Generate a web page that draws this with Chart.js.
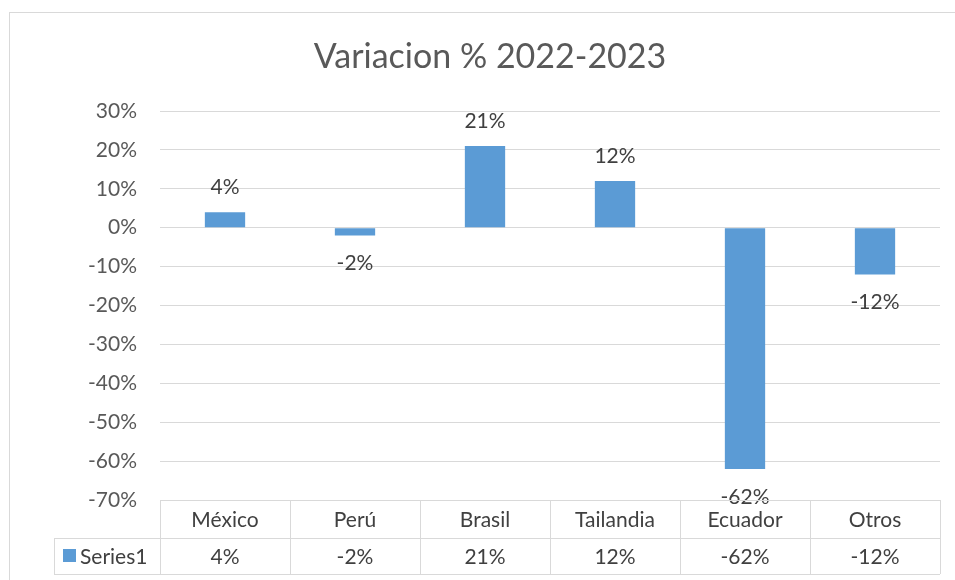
<!DOCTYPE html>
<html>
<head>
<meta charset="utf-8">
<script src="https://cdn.jsdelivr.net/npm/chart.js@4.4.0/dist/chart.umd.min.js"></script>
<style>
  html, body { margin: 0; padding: 0; background: #fff; }
  .wrap { position: relative; width: 955px; height: 580px; overflow: hidden; }
  .frame { position: absolute; left: 9px; top: 12px; width: 980px; height: 600px; border: 1px solid #d9d9d9; box-sizing: border-box; }
  canvas { position: absolute; left: 0; top: 0; }
</style>
</head>
<body>
<div class="wrap">
  <div class="frame"></div>
  <canvas id="chart" width="955" height="580"></canvas>
</div>
<script>
// data
const categories = ["México", "Perú", "Brasil", "Tailandia", "Ecuador", "Otros"];
const seriesName = "Series1";
const values = [0.04, -0.02, 0.21, 0.12, -0.62, -0.12];
const chartTitle = "Variacion % 2022-2023";

const FONT = "Lato, 'Open Sans', sans-serif";
const TEXT = "#404040";
const LINE = "#d9d9d9";
const BAR = "#5b9bd5";

const pct = v => Math.round(v * 100) + "%";

// title, data labels and the data table under the plot
const tablePlugin = {
    id: 'tablePlugin',
    afterDraw(chart) {
        const ctx = chart.ctx;
        const area = chart.chartArea;
        const x = chart.scales.x;
        const meta = chart.getDatasetMeta(0);

        ctx.save();
        ctx.fillStyle = "#595959";
        ctx.font = "34px " + FONT;
        ctx.textAlign = "center";
        ctx.textBaseline = "middle";
        ctx.fillText(chartTitle, 490, 57);

        // data labels
        ctx.font = "21px " + FONT;
        ctx.fillStyle = TEXT;
        meta.data.forEach((bar, i) => {
            const v = values[i];
            const y = v >= 0 ? bar.y - 25 : bar.y + 28;
            ctx.fillText(pct(v), bar.x, y);
        });

        // table
        const colW = (area.right - area.left) / categories.length;
        const top = area.bottom, mid = area.bottom + 38, bot = area.bottom + 74;
        const legendLeft = 54;
        ctx.strokeStyle = LINE;
        ctx.lineWidth = 1;
        ctx.beginPath();
        ctx.moveTo(area.left, top + 0.5); ctx.lineTo(area.right, top + 0.5);
        ctx.moveTo(legendLeft, mid + 0.5); ctx.lineTo(area.right, mid + 0.5);
        ctx.moveTo(legendLeft, bot + 0.5); ctx.lineTo(area.right, bot + 0.5);
        ctx.moveTo(legendLeft + 0.5, mid); ctx.lineTo(legendLeft + 0.5, bot);
        for (let i = 0; i <= categories.length; i++) {
            const lx = Math.round(area.left + i * colW) + 0.5;
            ctx.moveTo(lx, top); ctx.lineTo(lx, bot);
        }
        ctx.stroke();

        ctx.fillStyle = TEXT;
        categories.forEach((c, i) => {
            const cx = x.getPixelForValue(i);
            ctx.fillText(c, cx, (top + mid) / 2 + 1);
            ctx.fillText(pct(values[i]), cx, (mid + bot) / 2 + 1);
        });

        ctx.fillStyle = BAR;
        ctx.fillRect(63, 549, 13, 13);
        ctx.fillStyle = TEXT;
        ctx.textAlign = "left";
        ctx.fillText(seriesName, 80, (mid + bot) / 2 + 1);
        ctx.restore();
    }
};

var ctx = document.getElementById('chart').getContext('2d');
var myChart = new Chart(ctx, {
    type: 'bar',
    data: {
        labels: categories,
        datasets: [{
            label: seriesName,
            data: values,
            backgroundColor: BAR,
            borderWidth: 0,
            categoryPercentage: 1,
            barPercentage: 0.31,
        }]
    },
    options: {
        responsive: false,
        animation: false,
        layout: { padding: { top: 111, bottom: 80, left: 0, right: 15 } },
        plugins: {
            legend: { display: false },
            title: { display: false },
            tooltip: { enabled: false },
        },
        scales: {
            x: { display: false },
            y: {
                min: -0.7,
                max: 0.3,
                border: { display: false },
                grid: { color: LINE, drawTicks: false, lineWidth: 1 },
                ticks: {
                    stepSize: 0.1,
                    padding: 23,
                    color: "#595959",
                    font: { family: FONT, size: 21 },
                    callback: v => pct(v),
                },
                afterFit(scale) { scale.width = 160; },
            }
        }
    },
    plugins: [tablePlugin]
});
</script>
</body>
</html>
